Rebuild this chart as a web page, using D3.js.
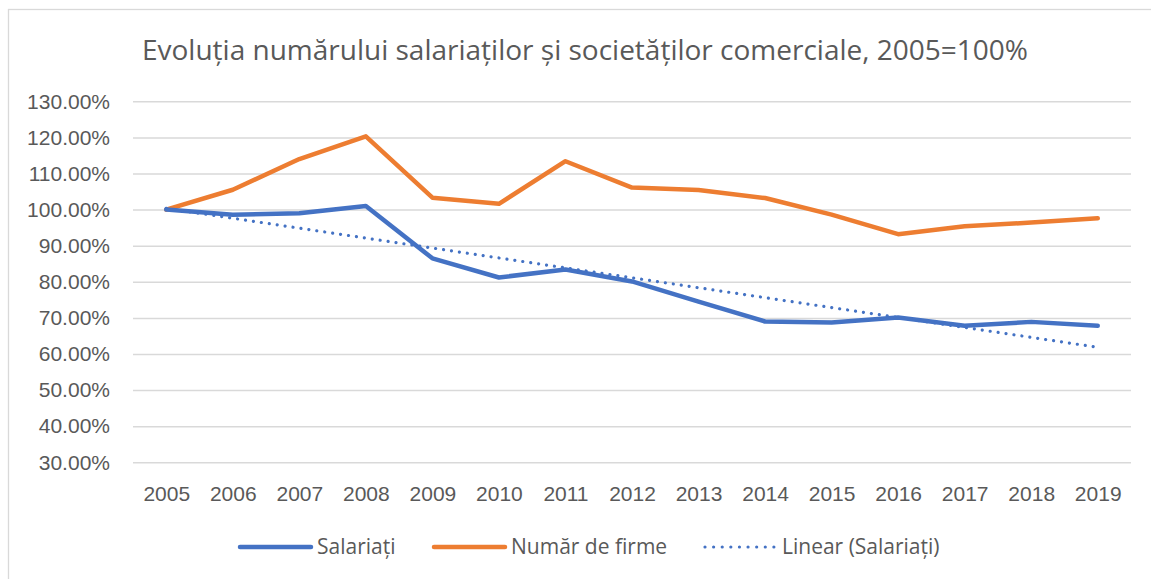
<!DOCTYPE html>
<html>
<head>
<meta charset="utf-8">
<script src="https://cdn.jsdelivr.net/npm/d3@7"></script>
<style>
  body { margin: 0; background: #fff; }
  svg { display: block; font-family: "Open Sans", sans-serif; }
  .tick text { fill: #595959; font-size: 21px; }
</style>
</head>
<body>
<svg id="chart"></svg>
<script>
const years = ["2005","2006","2007","2008","2009","2010","2011","2012","2013","2014","2015","2016","2017","2018","2019"];
const salariati = [100, 98.6, 99.0, 101.0, 86.5, 81.2, 83.4, 80.1, 74.5, 69.0, 68.7, 70.1, 67.8, 68.9, 67.8];
const firme = [100, 105.5, 114.0, 120.3, 103.3, 101.6, 113.4, 106.1, 105.4, 103.2, 98.6, 93.2, 95.4, 96.4, 97.6];
const yTicks = [30, 40, 50, 60, 70, 80, 90, 100, 110, 120, 130];
const title = "Evoluția numărului salariaților și societăților comerciale, 2005=100%";
const seriesNames = ["Salariați", "Număr de firme", "Linear (Salariați)"];

let width = 1151;
let height = 579;
let plot = { left: 133, right: 1131, top: 101.3, bottom: 462.3 };

const blue = "#4472C4";
const orange = "#ED7D31";

let svg = d3.select("#chart")
    .attr("width", width)
    .attr("height", height);

// chart frame
svg.append("rect")
    .attr("x", 8.5)
    .attr("y", 9.5)
    .attr("width", 1300)
    .attr("height", 700)
    .attr("fill", "#fff")
    .attr("stroke", "#d9d9d9")
    .attr("stroke-width", 1.3);

let xScale = d3.scalePoint()
    .domain(years)
    .range([plot.left, plot.right])
    .padding(0.5);

let yScale = d3.scaleLinear()
    .domain([30, 130])
    .range([plot.bottom, plot.top]);

// title
svg.append("text")
    .attr("x", 585)
    .attr("y", 60)
    .attr("text-anchor", "middle")
    .attr("fill", "#595959")
    .style("font-size", "28px")
    .text(title);

// gridlines + y labels
let yAxis = d3.axisLeft(yScale)
    .tickValues(yTicks)
    .tickSize(-(plot.right - plot.left))
    .tickPadding(23)
    .tickFormat(d => d.toFixed(2) + "%");

svg.append("g")
    .attr("transform", `translate(${plot.left},0)`)
    .call(yAxis)
    .call(g => g.select(".domain").remove())
    .call(g => g.selectAll(".tick line").attr("stroke", "#d9d9d9").attr("stroke-width", 1.5));

let xAxis = d3.axisBottom(xScale)
    .tickSize(0)
    .tickPadding(24);

svg.append("g")
    .attr("transform", `translate(0,${plot.bottom})`)
    .call(xAxis)
    .call(g => g.select(".domain").remove());

// linear trend of Salariați (least squares, as the spreadsheet does)
let n = salariati.length;
let meanX = (n - 1) / 2;
let meanY = d3.mean(salariati);
let slope = d3.sum(salariati, (v, i) => (i - meanX) * (v - meanY)) / d3.sum(salariati, (v, i) => (i - meanX) * (i - meanX));
let trend = years.map((y, i) => meanY + slope * (i - meanX));

let line = d3.line()
    .x((d, i) => xScale(years[i]))
    .y(d => yScale(d));

svg.append("path")
    .datum(firme)
    .attr("d", line)
    .attr("fill", "none")
    .attr("stroke", orange)
    .attr("stroke-width", 4.5)
    .attr("stroke-linejoin", "round")
    .attr("stroke-linecap", "round");

svg.append("path")
    .datum(salariati)
    .attr("d", line)
    .attr("fill", "none")
    .attr("stroke", blue)
    .attr("stroke-width", 4.5)
    .attr("stroke-linejoin", "round")
    .attr("stroke-linecap", "round");

svg.append("path")
    .datum(trend)
    .attr("d", line)
    .attr("fill", "none")
    .attr("stroke", blue)
    .attr("stroke-width", 3.2)
    .attr("stroke-dasharray", "0.01 8")
    .attr("stroke-linecap", "round");

// legend
const legendItems = [
    { name: seriesNames[0], color: blue, x: 240, dotted: false },
    { name: seriesNames[1], color: orange, x: 434, dotted: false },
    { name: seriesNames[2], color: blue, x: 705, dotted: true }
];
let legendY = 547;

let leg = svg.append("g").attr("class", "legend");
legendItems.forEach(item => {
    leg.append("line")
        .attr("x1", item.x)
        .attr("x2", item.x + (item.dotted ? 69 : 71))
        .attr("y1", legendY)
        .attr("y2", legendY)
        .attr("stroke", item.color)
        .attr("stroke-width", item.dotted ? 3.2 : 4.5)
        .attr("stroke-linecap", "round")
        .attr("stroke-dasharray", item.dotted ? "0.01 8.6" : null);
    leg.append("text")
        .attr("x", item.x + 77)
        .attr("y", legendY)
        .attr("dy", "0.35em")
        .attr("fill", "#595959")
        .style("font-size", "21px")
        .text(item.name);
});
</script>
</body>
</html>
